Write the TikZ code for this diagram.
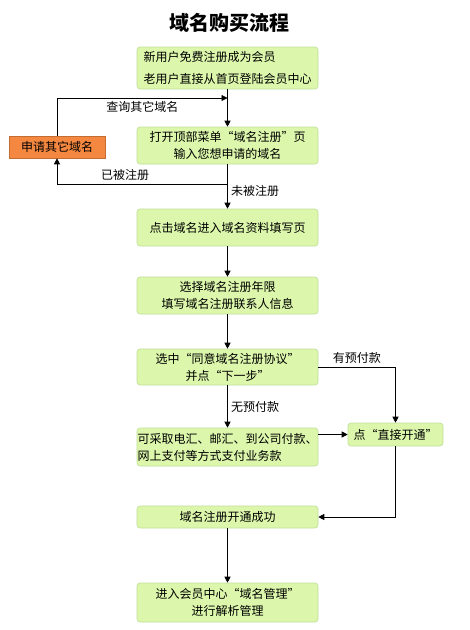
\documentclass[tikz,border=0pt]{standalone}
\usepackage{fontspec}
\setmainfont{Noto Sans CJK SC}
\usetikzlibrary{arrows.meta}
\definecolor{boxgreen}{RGB}{220,247,172}
\definecolor{boxedge}{RGB}{190,222,150}
\definecolor{boxorange}{RGB}{245,136,64}
\begin{document}
\begin{tikzpicture}[x=1pt,y=-1pt,font=\fontsize{12}{17}\selectfont]
\tikzstyle{step box} = [rectangle, rounded corners=3pt, minimum width=181pt, inner sep=0pt, text centered, fill=boxgreen, draw=boxedge, line width=0.6pt, align=center]
\tikzstyle{side box} = [rectangle, minimum width=96pt, minimum height=22pt, inner sep=0pt, text centered, fill=boxorange, draw=boxorange!80!black, line width=0.6pt]
\tikzstyle{arrow} = [line width=0.8pt, -{Triangle[length=6pt,width=6pt]}]
\useasboundingbox (0,0) rectangle (470,630);
%
\node (title) at (229,23) {\fontsize{20}{24}\selectfont\bfseries 域名购买流程};
\node (register) [step box, minimum height=42pt, align=left] at (227.5,68) {新用户免费注册成为会员\\[5pt]老用户直接从首页登陆会员中心};
\node (search) [step box, minimum height=37pt] at (227.5,145.5) {打开顶部菜单“域名注册”页\\输入您想申请的域名};
\node (other) [side box] at (57,147) {申请其它域名};
\node (fill) [step box, minimum height=37pt] at (227.5,227.5) {点击域名进入域名资料填写页};
\node (years) [step box, minimum height=37pt] at (227.5,295.5) {选择域名注册年限\\填写域名注册联系人信息};
\node (agree) [step box, minimum height=36pt] at (227.5,367) {选中“同意域名注册协议”\\并点“下一步”};
\node (pay) [step box, minimum height=38pt, align=left] at (227.5,447) {可采取电汇、邮汇、到公司付款、\\网上支付等方式支付业务款};
\node (open) [step box, minimum width=95pt, minimum height=23pt] at (395.5,434.5) {点“直接开通”};
\node (done) [step box, minimum height=22pt] at (227.5,517) {域名注册开通成功};
\node (manage) [step box, minimum height=39pt] at (227.5,602.5) {进入会员中心“域名管理”\\进行解析管理};
\coordinate (back-in) at (227.5,98);
\coordinate (back-out) at (227.5,184);
%
\draw [arrow] (register) -- (search);
\draw [arrow] (other.north) |- node [pos=0.75, below] {查询其它域名} (back-in);
\draw [arrow] (search) -- node [pos=0.6, right] {未被注册} (fill);
\draw [arrow] (back-out) -| node [pos=0.3, above] {已被注册} (other.south);
\draw [arrow] (fill) -- (years);
\draw [arrow] (years) -- (agree);
\draw [arrow] (agree) -- node [right] {无预付款} (pay);
\draw [arrow] (agree.east) -| node [pos=0.25, above] {有预付款} (open.north);
\draw [arrow] (pay.east |- open.west) -- (open.west);
\draw [arrow] (open.south) |- (done.east);
\draw [arrow] (done) -- (manage);
\end{tikzpicture}
\end{document}
